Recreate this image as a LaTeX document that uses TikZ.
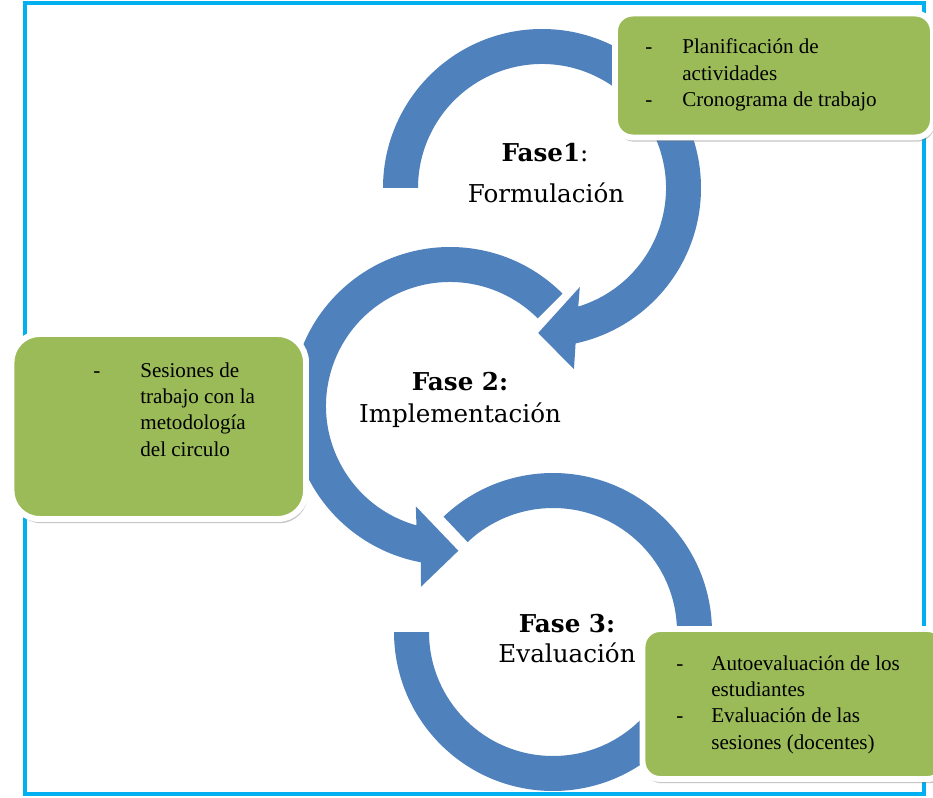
\documentclass[tikz,border=0pt]{standalone}
\usepackage{fontspec}
\setmainfont{Liberation Serif}
\newfontfamily\fasefont{DejaVu Serif}
\usepackage{xcolor}
\usetikzlibrary{positioning, calc, shadows}

\definecolor{azulflecha}{HTML}{4F81BD}
\definecolor{verdecaja}{HTML}{9BBB59}
\definecolor{celeste}{HTML}{00B0F0}

\tikzset{
  flecha/.style={fill=azulflecha},
  caja/.style={draw=white, line width=3.4pt, fill=verdecaja, rounded corners=10pt,
    drop shadow={shadow xshift=0.9pt, shadow yshift=-2.4pt, opacity=0.4, fill=black!55}},
  lista/.style={anchor=base west, inner sep=0pt, font=\fontsize{12}{15}\selectfont},
  fase/.style={anchor=base, inner sep=0pt, font=\fasefont\fontsize{14}{17}\selectfont}
}

\begin{document}
\begin{tikzpicture}[x=0.2mm, y=0.2mm]
    \useasboundingbox (0,0) rectangle (933,797);
    \fill[white] (0,0) rectangle (933,797);
    \draw[celeste, line width=2.8pt] (25,3) rectangle (924,794);
    \coordinate (c1) at (542,609);
    \coordinate (c2) at (450,391);
    \coordinate (c3) at (553,165);
    \fill[flecha] ($(c1)+(180:159)$) arc[start angle=180, end angle=-77.8, radius=159]
      -- ($(c1)+(-80:184)$) -- ($(c1)+(-91.5:145)$) -- ($(c1)+(-69.1:106)$)
      -- ($(c1)+(-73:124)$) arc[start angle=-73, end angle=180, radius=124] -- cycle;
    \fill[flecha] ($(c2)+(45:159)$) arc[start angle=45, end angle=259.4, radius=159]
      -- ($(c2)+(260.9:183)$) -- ($(c2)+(273.3:145)$) -- ($(c2)+(251.2:106)$)
      -- ($(c2)+(254.3:124)$) arc[start angle=254.3, end angle=45, radius=124] -- cycle;
    \fill[flecha] ($(c3)+(133.5:159)$) arc[start angle=133.5, end angle=-180, radius=159]
      -- ($(c3)+(180:124)$) arc[start angle=-180, end angle=133.5, radius=124] -- cycle;
    \node[caja, minimum width=63.6mm, minimum height=24.8mm] (plan) at (774,721.5) {};
    \node[caja, rounded corners=16pt, minimum width=58.9mm, minimum height=37mm] (sesiones) at (158.75,370.5) {};
    \node[caja, minimum width=60.5mm, minimum height=30mm] (autoeval) at (793.75,93) {};
    \node[lista] (plan-txt) at (645,743) {\begin{tabular}[t]{@{}p{7.4mm}@{}l@{}}
      -&Planificación de\\ &actividades\\ -&Cronograma de trabajo\end{tabular}};
    \node[lista] (sesiones-txt) at (93,420) {\begin{tabular}[t]{@{}p{9.4mm}@{}l@{}}
      -&Sesiones de\\ &trabajo con la\\ &metodología\\ &del circulo\end{tabular}};
    \node[lista] (autoeval-txt) at (676,127) {\begin{tabular}[t]{@{}p{7mm}@{}l@{}}
      -&Autoevaluación de los\\ &estudiantes\\ -&Evaluación de las\\ &sesiones (docentes)\end{tabular}};
    \node[fase] (fase1) at (545,635) {\textbf{Fase1}:};
    \node[fase] (formulacion) at (546,594) {Formulación};
    \node[fase] (fase2) at (460,407) {\textbf{Fase 2:}};
    \node[fase] (implementacion) at (460,375) {Implementación};
    \node[fase] (fase3) at (567,165) {\textbf{Fase 3:}};
    \node[fase] (evaluacion) at (567,135) {Evaluación};
\end{tikzpicture}
\end{document}
